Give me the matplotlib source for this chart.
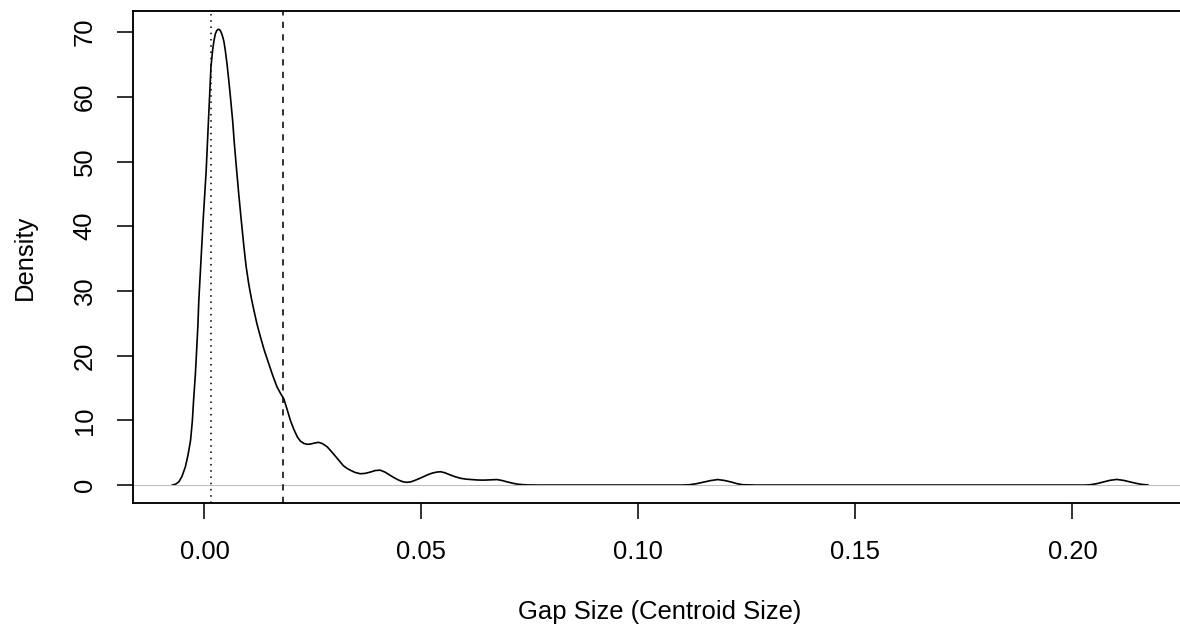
import matplotlib
matplotlib.use("Agg")
import matplotlib.pyplot as plt

# density estimate of gap sizes
gap_x = [-0.0074, -0.0066, -0.0059, -0.0052, -0.0044, -0.0038, -0.0032, -0.0028,
         -0.0025, -0.0021, -0.0018, -0.0015, -0.0013, -0.0008, -0.0003, 0.0004,
         0.0010, 0.0015, 0.0019, 0.0022, 0.0025, 0.0028, 0.0031, 0.0033, 0.0036,
         0.0039, 0.0042, 0.0045, 0.0048, 0.0052, 0.0056, 0.0060, 0.0065, 0.0069,
         0.0074, 0.0079, 0.0085, 0.0091, 0.0096, 0.0102, 0.0108, 0.0114, 0.0121,
         0.0129, 0.0138, 0.0148, 0.0157, 0.0167, 0.0175, 0.0183, 0.0190, 0.0198,
         0.0206, 0.0214, 0.0221, 0.0229, 0.0237, 0.0244, 0.0254, 0.0263, 0.0272,
         0.0283, 0.0291, 0.0300, 0.0310, 0.0320, 0.0328, 0.0336, 0.0347, 0.0359,
         0.0370, 0.0382, 0.0394, 0.0405, 0.0416, 0.0428, 0.0438, 0.0448, 0.0458,
         0.0467, 0.0476, 0.0486, 0.0495, 0.0505, 0.0515, 0.0525, 0.0535, 0.0544,
         0.0554, 0.0565, 0.0577, 0.0590, 0.0602, 0.0615, 0.0630, 0.0643, 0.0658,
         0.0674, 0.0686, 0.0697, 0.0709, 0.0720, 0.0732, 0.0745, 0.0770, 0.1100,
         0.1117, 0.1133, 0.1150, 0.1167, 0.1183, 0.1199, 0.1215, 0.1228, 0.1241,
         0.1270, 0.2030, 0.2041, 0.2055, 0.2070, 0.2086, 0.2102, 0.2118, 0.2135,
         0.2148, 0.2160, 0.2174]
gap_density = [0.0, 0.15, 0.5, 1.3, 2.8, 4.6, 6.9, 9.8,
               13.1, 17.0, 20.8, 24.8, 28.5, 34.7, 40.9, 48.6,
               57.4, 64.6, 67.3, 68.7, 69.7, 70.2, 70.4, 70.45, 70.3,
               69.9, 69.3, 68.5, 67.2, 65.1, 62.6, 59.9, 56.3, 52.7,
               48.8, 45.0, 40.8, 36.8, 33.8, 31.1, 28.9, 27.0, 24.9,
               22.9, 20.8, 18.8, 17.0, 15.2, 14.2, 13.3, 11.8, 10.0,
               8.6, 7.45, 6.8, 6.43, 6.3, 6.33, 6.5, 6.6, 6.4,
               5.9, 5.3, 4.6, 3.8, 3.0, 2.6, 2.3, 1.95, 1.75,
               1.8, 2.0, 2.25, 2.3, 2.0, 1.5, 1.1, 0.75, 0.5,
               0.42, 0.5, 0.75, 1.0, 1.3, 1.6, 1.85, 2.0, 2.06,
               1.9, 1.6, 1.3, 1.05, 0.92, 0.85, 0.78, 0.76, 0.8,
               0.85, 0.7, 0.5, 0.3, 0.15, 0.07, 0.02, 0.0, 0.0,
               0.05, 0.2, 0.45, 0.7, 0.85, 0.7, 0.45, 0.2, 0.05,
               0.0, 0.0, 0.05, 0.2, 0.45, 0.72, 0.87, 0.72, 0.45,
               0.25, 0.1, 0.02]

median_gap = 0.00145   # dotted line
mean_gap = 0.0180      # dashed line

x_ticks = [0.00, 0.05, 0.10, 0.15, 0.20]
x_labels = ["0.00", "0.05", "0.10", "0.15", "0.20"]
y_ticks = [0, 10, 20, 30, 40, 50, 60, 70]

plt.rcParams['font.family'] = ['Liberation Sans', 'DejaVu Sans']
plt.rcParams['font.size'] = 12.3

fig = plt.figure(figsize=(1180 / 150, 631 / 150), dpi=150)
ax = fig.add_axes([0.11297, 0.2024, 0.8929, 0.7802])

ax.plot(gap_x, gap_density, color='black', lw=0.8, solid_joinstyle='round')
ax.axhline(0, color='#BEBEBE', lw=0.5)
ax.axvline(median_gap, color='black', lw=0.75, linestyle=(0, (1, 3)))
ax.axvline(mean_gap, color='black', lw=0.75, linestyle=(0, (4, 4)))

# R-style 4% padding around the data range
xr = max(gap_x) - min(gap_x)
ax.set_xlim(min(gap_x) - 0.04 * xr, max(gap_x) + 0.04 * xr)
yr = max(gap_density) - min(gap_density)
ax.set_ylim(min(gap_density) - 0.04 * yr, max(gap_density) + 0.04 * yr)

ax.set_xticks(x_ticks)
ax.set_xticklabels(x_labels)
ax.set_yticks(y_ticks)
ax.tick_params(axis='both', length=7.5, width=0.75, direction='out', pad=10)
ax.tick_params(axis='y', labelrotation=90)
for lbl in ax.get_yticklabels():
    lbl.set_va('center')

for sp in ax.spines.values():
    sp.set_linewidth(0.9)

fig.text(660 / 1180, 1 - 612 / 631, "Gap Size (Centroid Size)",
         ha='center', va='center')
fig.text(25 / 1180, ax.get_position().y0 + ax.get_position().height / 2, "Density",
         rotation=90, ha='center', va='center')

fig.savefig("out.png", dpi=150)
